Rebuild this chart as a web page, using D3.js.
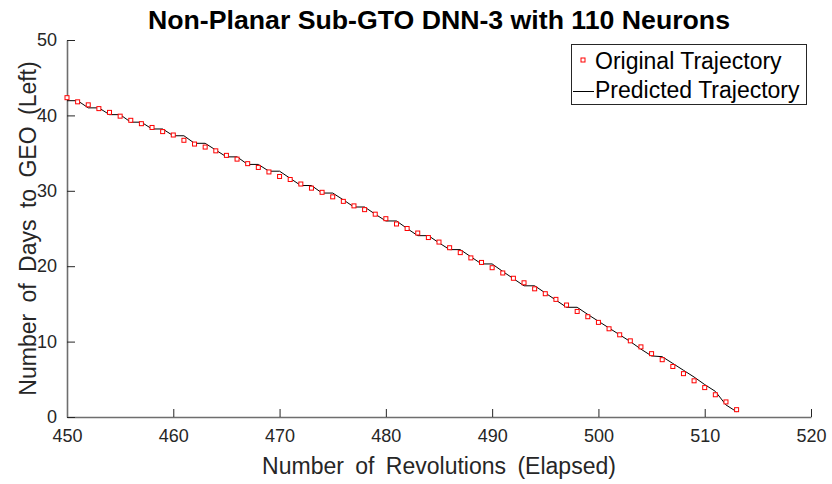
<!DOCTYPE html>
<html lang="en">
<head>
  <meta charset="UTF-8">
  <title>Non-Planar Sub-GTO DNN-3 with 110 Neurons</title>
  <script src="https://d3js.org/d3.v7.min.js"></script>
  <style>
    body { margin: 0; background: #fff; }
    svg { display: block; font-family: "Liberation Sans", Arial, sans-serif; }
  </style>
</head>
<body>
<svg width="832" height="484"></svg>
<script>
// revolutions 450..513
const revStart = 450;
const original = [
  42.35, 41.8, 41.4, 40.9, 40.4, 39.9, 39.35, 38.9, 38.4, 37.85,
  37.4, 36.7, 36.2, 35.8, 35.3, 34.7, 34.2, 33.6, 33.1, 32.5,
  31.9, 31.5, 30.9, 30.35, 29.8, 29.2, 28.6, 28.0, 27.5, 26.9,
  26.3, 25.6, 25.0, 24.4, 23.8, 23.2, 22.45, 21.8, 21.1, 20.5,
  19.8, 19.1, 18.4, 17.8, 17.0, 16.35, 15.6, 14.85, 14.0, 13.3,
  12.55, 11.7, 10.9, 10.1, 9.3, 8.4, 7.6, 6.7, 5.75, 4.8,
  3.9, 2.95, 2.0, 0.97
];
const predicted = [
  41.95, 41.95, 41.0, 41.0, 40.1, 40.1, 39.1, 39.1, 38.2, 38.2,
  37.3, 37.3, 36.3, 36.3, 35.4, 34.5, 34.5, 33.5, 33.5, 32.6,
  32.6, 31.65, 30.7, 30.7, 29.7, 29.7, 28.8, 27.85, 27.85, 26.9,
  26.0, 26.0, 25.0, 24.05, 24.05, 23.1, 22.2, 22.2, 21.25, 20.3,
  20.3, 19.3, 18.35, 17.4, 17.4, 16.45, 15.5, 14.55, 14.55, 13.6,
  12.7, 11.8, 10.9, 10.0, 9.0, 8.1, 8.0, 7.1, 6.2, 5.3,
  4.3, 3.4, 1.6, 0.7
];
const xTicks = [450, 460, 470, 480, 490, 500, 510, 520];
const yTicks = [0, 10, 20, 30, 40, 50];

const svg = d3.select("svg");
const margin = {top: 40, right: 21, bottom: 67, left: 67};
const width = 832 - margin.left - margin.right,
      height = 484 - margin.top - margin.bottom;

const x = d3.scaleLinear().domain([450, 520]).range([0, width]);
const y = d3.scaleLinear().domain([0, 50]).range([height, 0]);

const g = svg.append("g").attr("transform", `translate(${margin.left},${margin.top})`);

// axes, MATLAB-like inward ticks
const xAxis = g.append("g")
  .attr("transform", `translate(0,${height})`)
  .call(d3.axisBottom(x).tickValues(xTicks).tickSizeInner(-8).tickSizeOuter(0).tickPadding(12));
const yAxis = g.append("g")
  .call(d3.axisLeft(y).tickValues(yTicks).tickSizeInner(-8).tickSizeOuter(0).tickPadding(10));

[xAxis, yAxis].forEach(a => {
  a.select(".domain").attr("stroke", "#6e6e6e").attr("stroke-width", 1.6);
  a.selectAll(".tick line").attr("stroke", "#262626");
  a.selectAll(".tick text").attr("fill", "#262626").style("font-size", "18px")
    .style("font-family", "'Liberation Sans', Arial, sans-serif");
});

const pts = original.map((v, i) => ({r: revStart + i, v}));
const pred = predicted.map((v, i) => ({r: revStart + i, v}));

g.append("path")
  .datum(pred)
  .attr("fill", "none")
  .attr("stroke", "#000")
  .attr("stroke-width", 1)
  .attr("d", d3.line().x(d => x(d.r)).y(d => y(d.v)));

g.selectAll(".pt")
  .data(pts)
  .enter().append("rect")
  .attr("class", "pt")
  .attr("x", d => x(d.r) - 2)
  .attr("y", d => y(d.v) - 2)
  .attr("width", 4)
  .attr("height", 4)
  .attr("fill", "#fff")
  .attr("stroke", "#ff0000")
  .attr("stroke-width", 1);

// title and labels
svg.append("text")
  .attr("x", margin.left + width / 2)
  .attr("y", 29)
  .attr("text-anchor", "middle")
  .attr("textLength", 582)
  .attr("lengthAdjust", "spacingAndGlyphs")
  .style("font-size", "25px")
  .style("font-weight", "bold")
  .attr("fill", "#000")
  .text("Non-Planar Sub-GTO DNN-3 with 110 Neurons");

svg.append("text")
  .attr("x", margin.left + width / 2)
  .attr("y", 474)
  .attr("text-anchor", "middle")
  .style("font-size", "23px")
  .style("word-spacing", "5px")
  .attr("fill", "#262626")
  .text("Number of Revolutions (Elapsed)");

svg.append("text")
  .attr("transform", "rotate(-90)")
  .attr("x", -(margin.top + height / 2))
  .attr("y", 36)
  .attr("text-anchor", "middle")
  .style("font-size", "23px")
  .style("word-spacing", "5px")
  .attr("fill", "#262626")
  .text("Number of Days to GEO (Left)");

// legend
const lg = svg.append("g");
lg.append("rect")
  .attr("x", 571.5).attr("y", 44.5)
  .attr("width", 235).attr("height", 60)
  .attr("fill", "#fff")
  .attr("stroke", "#262626")
  .attr("stroke-width", 1);
lg.append("rect")
  .attr("x", 581).attr("y", 58)
  .attr("width", 4).attr("height", 4)
  .attr("fill", "#fff").attr("stroke", "#ff0000");
lg.append("line")
  .attr("x1", 573).attr("x2", 594)
  .attr("y1", 91.5).attr("y2", 91.5)
  .attr("stroke", "#000");
lg.append("text")
  .attr("x", 595).attr("y", 69)
  .style("font-size", "23px")
  .attr("fill", "#000")
  .text("Original Trajectory");
lg.append("text")
  .attr("x", 595).attr("y", 98)
  .style("font-size", "23px")
  .attr("fill", "#000")
  .text("Predicted Trajectory");
</script>
</body>
</html>
